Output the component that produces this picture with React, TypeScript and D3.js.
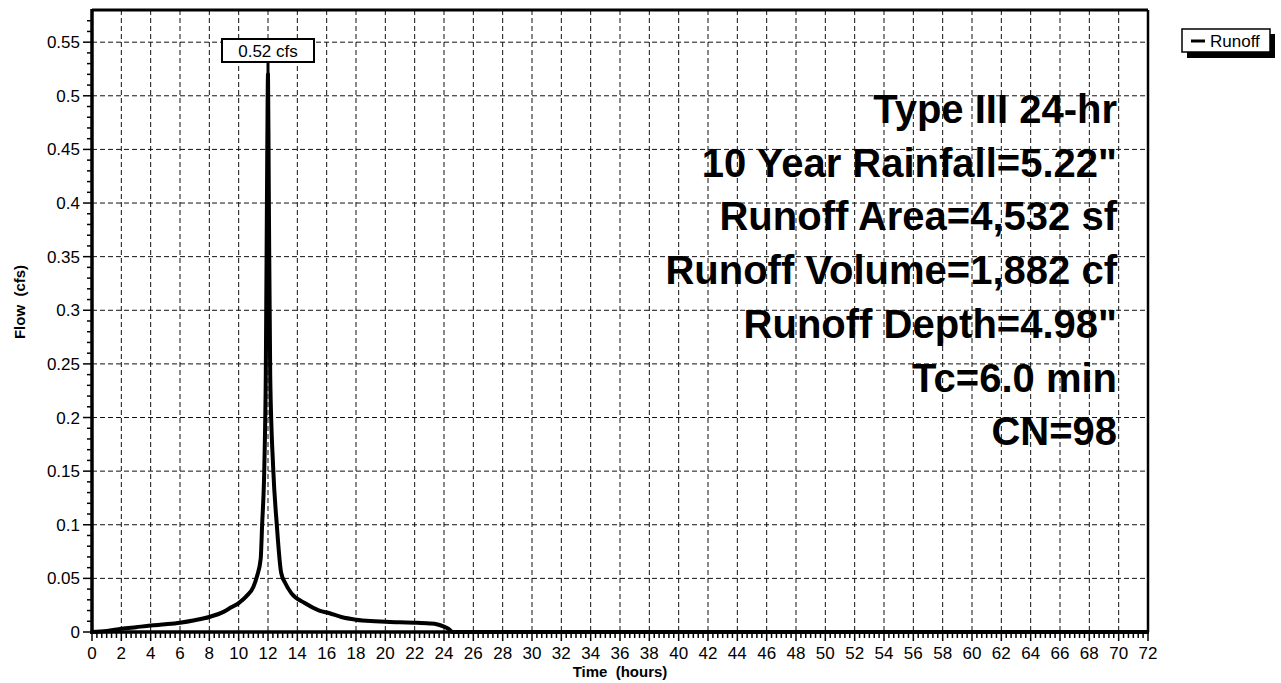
import React from 'react';
import * as d3 from 'd3';

// --- Hydrograph data ---
const hours = [0, 1, 2, 3, 4, 5, 6, 7, 8, 9, 9.5, 10, 10.5, 11, 11.25, 11.5, 11.6, 11.75, 11.85, 11.95, 12.0, 12.05, 12.15, 12.35, 12.6, 12.9, 13.2, 13.6, 14.5, 15.5, 16.2, 17, 18, 19, 20, 21, 22, 23, 23.5, 24, 24.3, 24.6, 72];
const flows = [0, 0.001, 0.003, 0.0045, 0.006, 0.0072, 0.0087, 0.011, 0.014, 0.019, 0.023, 0.027, 0.033, 0.042, 0.052, 0.068, 0.1, 0.154, 0.24, 0.45, 0.52, 0.42, 0.24, 0.154, 0.1, 0.055, 0.045, 0.036, 0.027, 0.02, 0.0175, 0.014, 0.0115, 0.0102, 0.0096, 0.009, 0.0087, 0.008, 0.0072, 0.005, 0.003, 0, 0];

const xTicks = d3.range(0, 73, 2);
const yTicks = [0, 0.05, 0.1, 0.15, 0.2, 0.25, 0.3, 0.35, 0.4, 0.45, 0.5, 0.55];
const yTickLabels = ['0', '0.05', '0.1', '0.15', '0.2', '0.25', '0.3', '0.35', '0.4', '0.45', '0.5', '0.55'];
const infoLines = ['Type III 24-hr', '10 Year Rainfall=5.22"', 'Runoff Area=4,532 sf', 'Runoff Volume=1,882 cf', 'Runoff Depth=4.98"', 'Tc=6.0 min', 'CN=98'];
const peakLabel = '0.52 cfs';
const seriesName = 'Runoff';

const W = 1281, H = 683;
const left = 92, right = 1148, top = 10, bottom = 632;
const FONT = 'Arial, "Liberation Sans", sans-serif';

export default function App() {
  const x = d3.scaleLinear().domain([0, 72]).range([left, right]);
  const y = d3.scaleLinear().domain([0, 0.58]).range([bottom, top]);

  const line = d3.line<number>()
    .x((_, i) => x(hours[i]))
    .y(d => y(d))
    .curve(d3.curveMonotoneX);

  const xMinor = d3.range(0, 72.001, 1 / 3).filter(v => Math.abs(v / 2 - Math.round(v / 2)) > 1e-6);
  const yMinor = d3.range(0, 0.58, 0.01).filter(v => Math.abs(v / 0.05 - Math.round(v / 0.05)) > 1e-6);

  const peakIdx = flows.indexOf(d3.max(flows) as number);
  const px = x(hours[peakIdx]);
  const py = y(flows[peakIdx]);

  return (
    <svg width={W} height={H} style={{ position: 'absolute', left: 0, top: 0, background: '#fff' }} fontFamily={FONT}>
      <rect x={0} y={0} width={W} height={H} fill="#fff" />

      {/* grid */}
      <g stroke="#111" strokeWidth={1} strokeDasharray="5,3">
        {xTicks.filter(v => v > 0 && v < 72).map(v => (
          <line key={'gx' + v} x1={x(v)} x2={x(v)} y1={top} y2={bottom} />
        ))}
        {yTicks.filter(v => v > 0).map(v => (
          <line key={'gy' + v} x1={left} x2={right} y1={y(v)} y2={y(v)} />
        ))}
      </g>

      {/* info text */}
      <g fontWeight="bold" fontSize={40} textAnchor="end" fill="#000">
        {infoLines.map((t, i) => (
          <text key={t} x={1117} y={123 + i * 53.7}>{t}</text>
        ))}
      </g>

      {/* frame */}
      <line x1={left} x2={right} y1={top} y2={top} stroke="#000" strokeWidth={3} />
      <line x1={right} x2={right} y1={top} y2={bottom} stroke="#000" strokeWidth={2.5} />

      {/* hydrograph */}
      <path d={line(flows) || ''} fill="none" stroke="#000" strokeWidth={4} strokeLinejoin="round" />

      {/* axes */}
      <line x1={left} x2={left} y1={top - 1} y2={bottom + 2} stroke="#000" strokeWidth={3.5} />
      <line x1={left - 2} x2={right + 1} y1={bottom} y2={bottom} stroke="#000" strokeWidth={3.5} />
      <g stroke="#000" strokeWidth={1.5}>
        {yTicks.map(v => <line key={'yt' + v} x1={left - 9} x2={left} y1={y(v)} y2={y(v)} />)}
        {yMinor.map(v => <line key={'ym' + v} x1={left - 5} x2={left} y1={y(v)} y2={y(v)} />)}
        {xTicks.map(v => <line key={'xt' + v} x1={x(v)} x2={x(v)} y1={bottom} y2={bottom + 9} />)}
        {xMinor.map(v => <line key={'xm' + v} x1={x(v)} x2={x(v)} y1={bottom} y2={bottom + 6} />)}
      </g>

      <g fontSize={17} fill="#000" textAnchor="end">
        {yTicks.map((v, i) => (
          <text key={'yl' + v} x={left - 12} y={y(v) + 6}>{yTickLabels[i]}</text>
        ))}
      </g>
      <g fontSize={17} fill="#000" textAnchor="middle">
        {xTicks.map(v => (
          <text key={'xl' + v} x={x(v)} y={659}>{v}</text>
        ))}
      </g>

      <text x={(left + right) / 2} y={677} textAnchor="middle" fontSize={15} fontWeight="bold" style={{ whiteSpace: 'pre' }}>Time  (hours)</text>
      <text transform="translate(25,302) rotate(-90)" textAnchor="middle" fontSize={15} fontWeight="bold" style={{ whiteSpace: 'pre' }}>Flow  (cfs)</text>

      {/* peak label */}
      <line x1={px} x2={px} y1={61} y2={py} stroke="#000" strokeWidth={3} />
      <rect x={222} y={39} width={92} height={23} fill="#fff" stroke="#000" strokeWidth={2} />
      <text x={268} y={57} textAnchor="middle" fontSize={17}>{peakLabel}</text>

      {/* legend */}
      <rect x={1187} y={34} width={88} height={24} fill="#000" />
      <rect x={1182} y={29} width={88} height={23} fill="#fff" stroke="#000" strokeWidth={1.5} />
      <line x1={1191} x2={1205} y1={41} y2={41} stroke="#000" strokeWidth={3} />
      <text x={1210} y={47} fontSize={17}>{seriesName}</text>
    </svg>
  );
}
